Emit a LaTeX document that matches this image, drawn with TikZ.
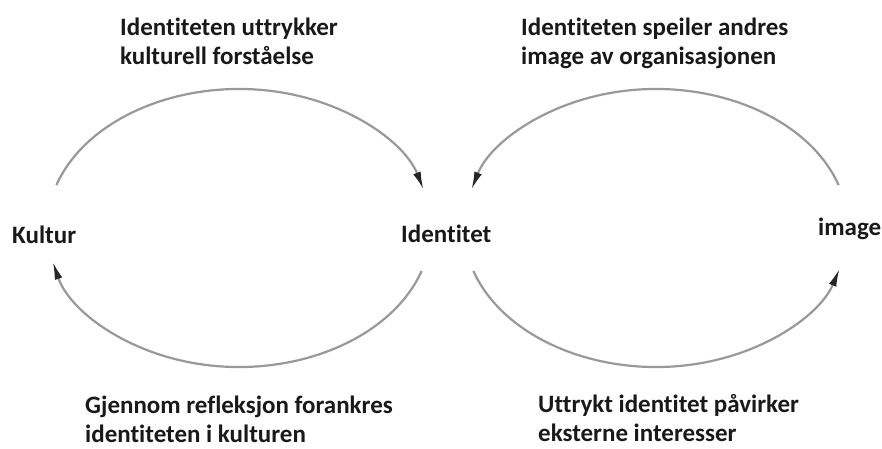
\documentclass[tikz,border=0pt]{standalone}
\usepackage{fontspec}
\setmainfont{Carlito}[Ligatures={NoCommon}]
\usetikzlibrary{arrows.meta,calc}
\begin{document}
\begin{tikzpicture}[x=1pt,y=1pt,
  lbl/.style={font=\fontsize{25}{29}\selectfont\bfseries, text=black!90, inner sep=0pt, anchor=base west, align=left},
  loop/.style={draw=black!40, line width=2.2pt, -{Latex[length=18pt,width=8pt,color=black!85]}}]
\useasboundingbox (0,0) rectangle (882,448);
\fill[white] (0,0) rectangle (882,448);
% centres of the two cycles
\coordinate (cl) at (239,220);
\coordinate (cr) at (656,220);
% labels (base anchor = baseline of the last line)
\node[lbl] (kultur) at (12,205) {Kultur};
\node[lbl] (ident) at (401,206) {Identitet};
\node[lbl] (image) at (818,213) {image};
\node[lbl] (t1) at (120,383) {Identiteten uttrykker\\kulturell forståelse};
\node[lbl] (t2) at (521,383) {Identiteten speiler andres\\image av organisasjonen};
\node[lbl] (t3) at (85,6) {Gjennom refleksjon forankres\\identiteten i kulturen};
\node[lbl] (t4) at (538,7) {Uttrykt identitet påvirker\\eksterne interesser};
% arcs
\draw[loop] ($(cl)+(162:192 and 139)$) arc[start angle=162, end angle=16, x radius=192, y radius=139];
\draw[loop] ($(cl)+(-18:192 and 139)$) arc[start angle=-18, end angle=-166, x radius=192, y radius=139];
\draw[loop] ($(cr)+(18:192 and 139)$) arc[start angle=18, end angle=164, x radius=192, y radius=139];
\draw[loop] ($(cr)+(198:192 and 139)$) arc[start angle=198, end angle=343, x radius=192, y radius=139];
\end{tikzpicture}
\end{document}
